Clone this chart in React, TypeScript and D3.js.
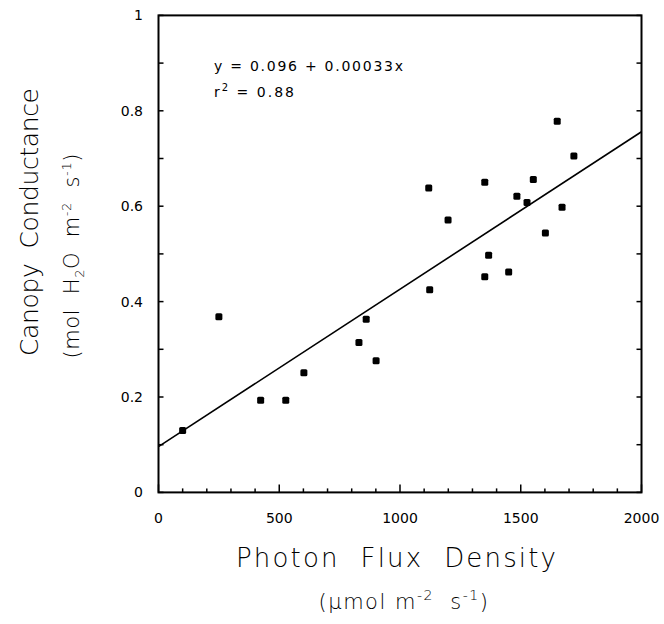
import React from "react";
import * as d3 from "d3";

const pfdValues = [100, 250, 423, 527, 602, 830, 860, 901, 1119, 1199, 1123, 1351, 1367, 1351, 1450, 1484, 1526, 1552, 1602, 1651, 1671, 1720];
const conductanceValues = [0.130, 0.368, 0.193, 0.193, 0.251, 0.314, 0.363, 0.276, 0.638, 0.571, 0.425, 0.650, 0.497, 0.452, 0.462, 0.621, 0.608, 0.656, 0.544, 0.778, 0.598, 0.705];
const intercept = 0.096;
const slope = 0.00033;
const xMajorTicks = [0, 500, 1000, 1500, 2000];
const xMinorTicks = d3.range(0, 2001, 100);
const yMajorTicks = [0, 0.2, 0.4, 0.6, 0.8, 1];
const yTickLabels = ["0", "0.2", "0.4", "0.6", "0.8", "1"];
const yMinorTicks = d3.range(0, 11).map((i) => i / 10);

const W = 664;
const H = 624;
const FONT = "'DejaVu Sans', 'Liberation Sans', sans-serif";
const NB = "\u00A0";

export default function App() {
  const x = d3.scaleLinear().domain([0, 2000]).range([158.5, 641.5]);
  const y = d3.scaleLinear().domain([0, 1]).range([492.4, 15.4]);
  const line = d3.line<number>().x((d) => x(d)).y((d) => y(intercept + slope * d));
  const [x0, x1] = x.range();
  const [y0, y1] = y.range();
  const ms = 7;

  return (
    <svg width={W} height={H} style={{ position: "absolute", left: 0, top: 0, background: "#fff" }} fontFamily={FONT}>
      <rect x={0} y={0} width={W} height={H} fill="#fff" />
      {/* frame */}
      <rect x={x0} y={y1} width={x1 - x0} height={y0 - y1} fill="none" stroke="#000" strokeWidth={2} />
      {/* x ticks */}
      {xMinorTicks.map((t) => {
        const major = xMajorTicks.includes(t);
        return <line key={"xt" + t} x1={x(t)} x2={x(t)} y1={y0} y2={y0 - (major ? 8 : 4)} stroke="#000" strokeWidth={1.5} />;
      })}
      {/* y ticks left & right */}
      {yMinorTicks.map((t) => (
        <g key={"yt" + t}>
          <line x1={x0} x2={x0 + 5} y1={y(t)} y2={y(t)} stroke="#000" strokeWidth={1.5} />
          <line x1={x1} x2={x1 - 5} y1={y(t)} y2={y(t)} stroke="#000" strokeWidth={1.5} />
        </g>
      ))}
      {/* tick labels */}
      {xMajorTicks.map((t) => (
        <text key={"xl" + t} x={x(t)} y={523} textAnchor="middle" fontSize={14}>{t}</text>
      ))}
      {yMajorTicks.map((t, i) => (
        <text key={"yl" + t} x={143} y={y(t) + 5} textAnchor="end" fontSize={14}>{yTickLabels[i]}</text>
      ))}
      {/* regression line */}
      <path d={line([0, 2000]) || ""} fill="none" stroke="#000" strokeWidth={1.6} />
      {/* points */}
      {pfdValues.map((v, i) => (
        <rect key={"p" + i} x={x(v) - ms / 2} y={y(conductanceValues[i]) - ms / 2} width={ms} height={ms} rx={1.5} fill="#000" />
      ))}
      {/* equation */}
      <text x={214} y={71} fontSize={14} textLength={189} lengthAdjust="spacing">y = 0.096 + 0.00033x</text>
      <text x={214} y={97} fontSize={14} letterSpacing={2}>
        r<tspan dy={-6} fontSize={10}>2</tspan><tspan dy={6}>{NB}={NB}0.88</tspan>
      </text>
      {/* x title */}
      <text x={396} y={567} textAnchor="middle" fontSize={26} fontWeight={200} textLength={320} lengthAdjust="spacing">{`Photon${NB}${NB}Flux${NB}${NB}Density`}</text>
      <text x={404} y={609} textAnchor="middle" fontSize={21} fontWeight={200} letterSpacing={1.5}>
        (μmol{NB}m<tspan dy={-9} fontSize={14}>-2</tspan><tspan dy={9}>{NB + NB}s</tspan><tspan dy={-9} fontSize={14}>-1</tspan><tspan dy={9}>)</tspan>
      </text>
      {/* y title */}
      <g transform="translate(38,222) rotate(-90)">
        <text x={0} y={0} textAnchor="middle" fontSize={25} fontWeight={200} textLength={268} lengthAdjust="spacing">{`Canopy${NB}${NB}Conductance`}</text>
      </g>
      <g transform="translate(79,256) rotate(-90)">
        <text x={0} y={0} textAnchor="middle" fontSize={21} fontWeight={200} textLength={205} lengthAdjust="spacing">
          (mol{NB}{NB}H<tspan dy={5} fontSize={13}>2</tspan><tspan dy={-5}>O{NB}{NB}m</tspan><tspan dy={-8} fontSize={13}>-2</tspan><tspan dy={8}>{NB}{NB}s</tspan><tspan dy={-8} fontSize={13}>-1</tspan><tspan dy={8}>)</tspan>
        </text>
      </g>
    </svg>
  );
}
